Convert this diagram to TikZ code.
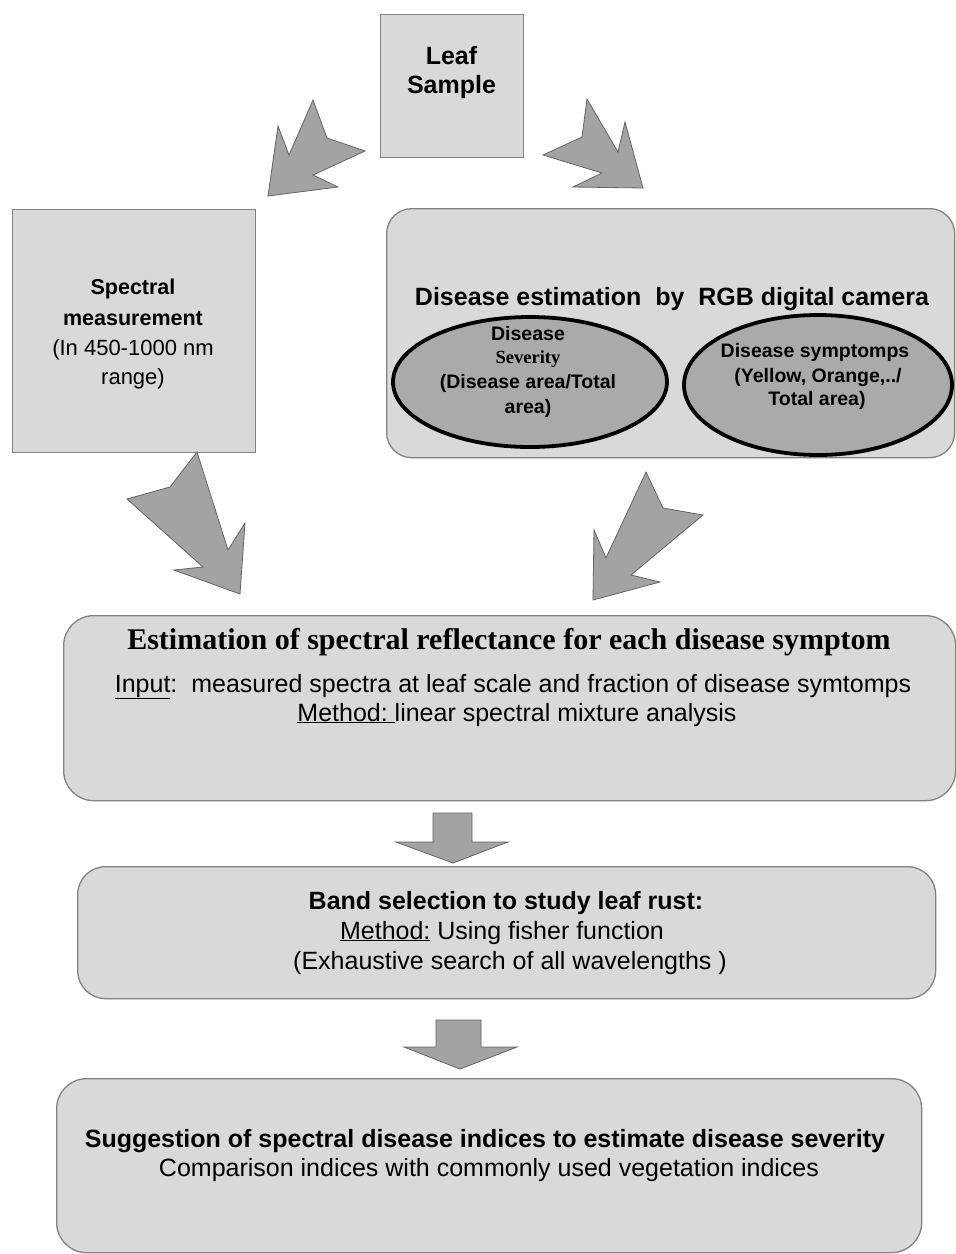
\documentclass[tikz,border=0pt]{standalone}
\usepackage{fontspec}
\setmainfont{Liberation Sans}
\newfontfamily\tnr{Liberation Serif}
\usetikzlibrary{shapes.geometric}
\definecolor{boxfill}{RGB}{217,217,217}
\definecolor{boxline}{RGB}{130,130,130}
\definecolor{arrfill}{RGB}{163,163,163}
\definecolor{arrline}{RGB}{100,100,100}
\definecolor{ellfill}{RGB}{170,170,170}
\begin{document}
\begin{tikzpicture}[x=1pt,y=-1pt,
  sqbox/.style={draw=boxline,fill=boxfill,line width=1.3pt,inner sep=0pt,anchor=north west},
  rbox/.style={sqbox,rounded corners=28pt},
  ell/.style={ellipse,draw=black,fill=ellfill,line width=3.8pt,inner sep=0pt},
  blockarrow/.style={draw=arrline,fill=arrfill,line width=0.8pt,line join=miter},
  txt/.style={anchor=base,inner sep=0pt},
  big/.style={txt,font=\fontsize{25}{29}\selectfont},
  bigb/.style={txt,font=\fontsize{25}{29}\selectfont\bfseries},
  mid/.style={txt,font=\fontsize{22}{26}\selectfont},
  midb/.style={txt,font=\fontsize{21.5}{26}\selectfont\bfseries},
  ellb/.style={txt,font=\fontsize{19.5}{23}\selectfont\bfseries}
]
\useasboundingbox (0,0) rectangle (956,1254);
\fill[white] (0,0) rectangle (956,1254);

% boxes
\node[sqbox,minimum width=143pt,minimum height=143pt] (leaf) at (380,14) {};
\node[sqbox,minimum width=243pt,minimum height=243pt] (spec) at (12,209) {};
\node[rbox,rounded corners=25pt,minimum width=568pt,minimum height=249pt] (rgb) at (386,208) {};
\node[rbox,rounded corners=30pt,minimum width=892pt,minimum height=185pt] (est) at (63,615) {};
\node[rbox,minimum width=858pt,minimum height=132pt] (band) at (77,866) {};
\node[rbox,rounded corners=30pt,minimum width=865pt,minimum height=174pt] (sugg) at (56,1078) {};

% ellipses
\node[ell,minimum width=274pt,minimum height=130pt] (sev) at (530,382) {};
\node[ell,minimum width=268pt,minimum height=140pt] (sym) at (818,385) {};

% texts
\node[bigb] (t1) at (451.5,64) {Leaf};
\node[bigb] (t2) at (451.5,93) {Sample};

\node[midb] (s1) at (133,294) {Spectral};
\node[midb] (s2) at (133,325) {measurement};
\node[mid] (s3) at (133,355) {(In 450-1000 nm};
\node[mid] (s4) at (133,384) {range)};

\node[bigb] (r0) at (672,305) {Disease estimation\ \ by\ \ RGB digital camera};
\node[ellb] (e1) at (528,340) {Disease};
\node[txt,font=\fontsize{18.5}{22}\selectfont\tnr\bfseries] (e2) at (528,363) {Severity};
\node[ellb] (e3) at (528,388) {(Disease area/Total};
\node[ellb] (e4) at (528,413) {area)};
\node[ellb] (f1) at (815,357) {Disease symptomps};
\node[ellb] (f2) at (818,382) {(Yellow, Orange,../};
\node[ellb] (f3) at (817,405) {Total area)};

\node[txt,font=\fontsize{30}{34}\selectfont\tnr\bfseries] (m0) at (509,649) {Estimation of spectral reflectance for each disease symptom};
\node[big] (m1) at (513,692) {\underline{Input}:\ \ measured spectra at leaf scale and fraction of disease symtomps};
\node[big] (m2) at (517,721) {\underline{Method:\ }linear spectral mixture analysis};

\node[bigb] (b1) at (506,909) {Band selection to study leaf rust:};
\node[big] (b2) at (502,939) {\underline{Method:} Using fisher function};
\node[big] (b3) at (510,969) {(Exhaustive search of all wavelengths )};

\node[bigb] (g1) at (485,1147) {Suggestion of spectral disease indices to estimate disease severity};
\node[big] (g2) at (489,1176) {Comparison indices with commonly used vegetation indices};

% block arrows
\draw[blockarrow] (268,196) -- (278,126) -- (289,155) -- (313,100) -- (327,138) -- (365,151) -- (313,175) -- (338,187) -- cycle;
\draw[blockarrow] (643,188) -- (625,122) -- (618,152) -- (587,99) -- (582,137) -- (543,155) -- (602,173) -- (573,187) -- cycle;
\draw[blockarrow] (197,452) -- (170,487) -- (127,499) -- (203,567) -- (174,570) -- (240,594) -- (245,523) -- (228,550) -- cycle;
\draw[blockarrow] (646,472) -- (663,508) -- (703,515) -- (631,575) -- (660,582) -- (593,600) -- (594,530) -- (606,558) -- cycle;
\draw[blockarrow] (433,813) -- (472,813) -- (472,842) -- (508,842) -- (453,863) -- (396,842) -- (433,842) -- cycle;
\draw[blockarrow] (436,1020) -- (481,1020) -- (481,1047) -- (517,1047) -- (460,1069) -- (404,1047) -- (436,1047) -- cycle;
\end{tikzpicture}
\end{document}
